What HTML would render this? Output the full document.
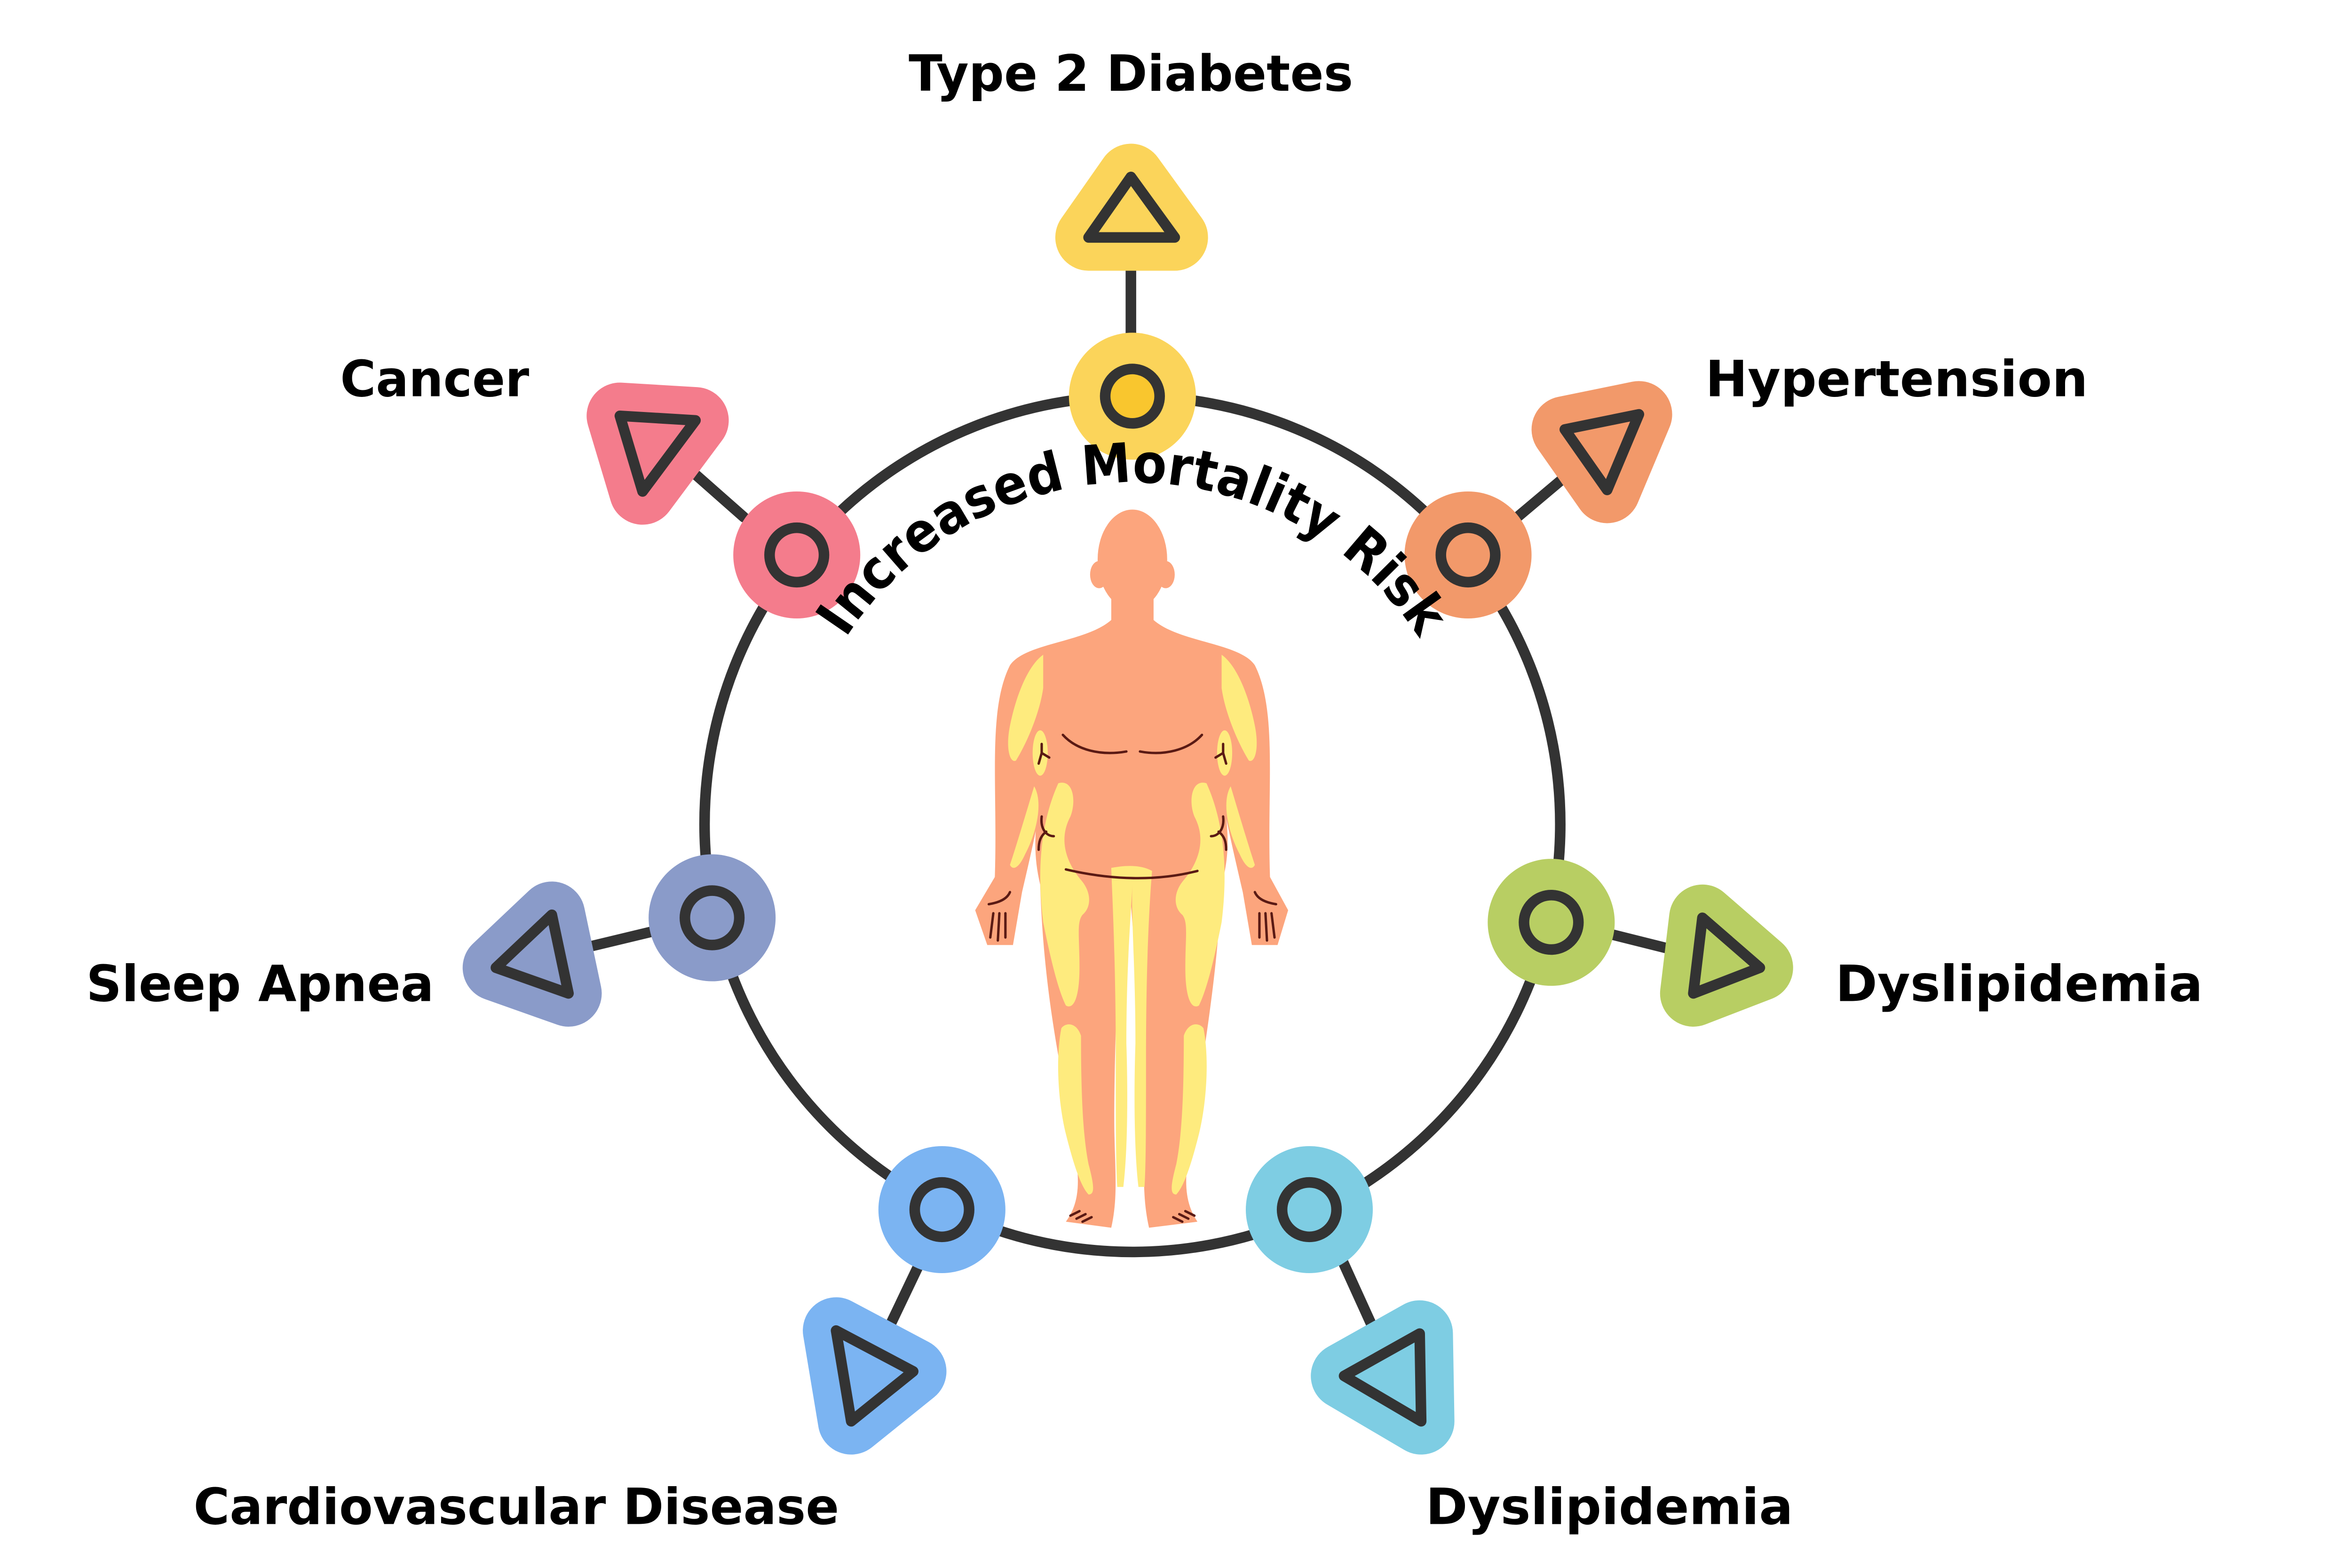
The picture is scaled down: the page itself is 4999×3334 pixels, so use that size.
<!DOCTYPE html>
<html><head><meta charset="utf-8"><style>
html,body{margin:0;padding:0;background:#fff;}
svg{display:block;}
text{font-family:"DejaVu Sans","Liberation Sans",sans-serif;font-weight:bold;fill:#000;}
</style></head><body>
<svg width="4999" height="3334" viewBox="0 0 1555 1037" xmlns="http://www.w3.org/2000/svg">
<defs>
<path id="arc" d="M 749 545 m -226 0 a 226 226 0 0 1 452 0"/>
</defs>
<circle cx="749" cy="545" r="283" fill="none" stroke="#333" stroke-width="7"/>

<g stroke="#333" stroke-width="7" stroke-linecap="round">
<line x1="748" y1="175" x2="748" y2="222"/>
<line x1="458" y1="312" x2="492" y2="342"/>
<line x1="1000" y1="345" x2="1038" y2="313"/>
<line x1="386" y1="627" x2="436" y2="615"/>
<line x1="1062" y1="617" x2="1110" y2="629"/>
<line x1="609" y1="834" x2="588" y2="878"/>
<line x1="888" y1="834" x2="908" y2="878"/>
</g>

<g stroke-linejoin="round">
<polygon points="748,117 720,157 777,157" fill="#FBD45A" stroke="#FBD45A" stroke-width="44"/>
<polygon points="748,117 720,157 777,157" fill="#FBD45A" stroke="#333" stroke-width="7"/>

<polygon points="410,275 460,278 425,325" fill="#F47C8C" stroke="#F47C8C" stroke-width="44"/>
<polygon points="410,275 460,278 425,325" fill="#F47C8C" stroke="#333" stroke-width="7"/>

<polygon points="1035,284 1084,274 1063,324" fill="#F2996A" stroke="#F2996A" stroke-width="44"/>
<polygon points="1035,284 1084,274 1063,324" fill="#F2996A" stroke="#333" stroke-width="7"/>

<polygon points="328,640 365,605 376,657" fill="#8A9BC9" stroke="#8A9BC9" stroke-width="44"/>
<polygon points="328,640 365,605 376,657" fill="#8A9BC9" stroke="#333" stroke-width="7"/>

<polygon points="1126,607 1164,640 1120,657" fill="#B8CE63" stroke="#B8CE63" stroke-width="44"/>
<polygon points="1126,607 1164,640 1120,657" fill="#B8CE63" stroke="#333" stroke-width="7"/>

<polygon points="553,880 604,907 563,940" fill="#7BB4F2" stroke="#7BB4F2" stroke-width="44"/>
<polygon points="553,880 604,907 563,940" fill="#7BB4F2" stroke="#333" stroke-width="7"/>

<polygon points="939,882 889,910 940,940" fill="#7ECDE3" stroke="#7ECDE3" stroke-width="44"/>
<polygon points="939,882 889,910 940,940" fill="#7ECDE3" stroke="#333" stroke-width="7"/>
</g>

<g stroke="#333" stroke-width="7">
<circle cx="749" cy="262" r="42" fill="#FBD45A" stroke="none"/><circle cx="749" cy="262" r="18" fill="#F9C62E"/>
<circle cx="527" cy="367" r="42" fill="#F47C8C" stroke="none"/><circle cx="527" cy="367" r="18" fill="#F47C8C"/>
<circle cx="971" cy="367" r="42" fill="#F2996A" stroke="none"/><circle cx="971" cy="367" r="18" fill="#F2996A"/>
<circle cx="471" cy="607" r="42" fill="#8A9BC9" stroke="none"/><circle cx="471" cy="607" r="18" fill="#8A9BC9"/>
<circle cx="1026" cy="610" r="42" fill="#B8CE63" stroke="none"/><circle cx="1026" cy="610" r="18" fill="#B8CE63"/>
<circle cx="623" cy="800" r="42" fill="#7BB4F2" stroke="none"/><circle cx="623" cy="800" r="18" fill="#7BB4F2"/>
<circle cx="866" cy="800" r="42" fill="#7ECDE3" stroke="none"/><circle cx="866" cy="800" r="18" fill="#7ECDE3"/>
</g>

<g>
<ellipse cx="749" cy="370" rx="23" ry="33" fill="#FCA57D"/>
<ellipse cx="727" cy="380" rx="6" ry="9" fill="#FCA57D"/>
<ellipse cx="771" cy="380" rx="6" ry="9" fill="#FCA57D"/>
<rect x="735" y="392" width="28" height="25" fill="#FCA57D"/>
<path fill="#FCA57D" d="M 735 410 L 763 410 C 780 425 820 425 830 440 C 845 470 838 520 840 580 L 852 602 L 845 625 L 828 625 L 822 590 C 815 560 808 530 805 505 C 812 540 815 560 808 585 C 805 650 795 700 790 740 C 785 770 780 790 792 808 L 760 812 C 755 790 757 770 757 740 C 755 690 750 620 747 586 L 743 586 C 740 620 737 690 737 740 C 737 770 740 790 735 812 L 705 808 C 718 790 712 770 708 740 C 700 700 690 650 688 585 C 682 560 685 540 692 505 C 690 530 683 560 676 590 L 670 625 L 653 625 L 645 602 L 658 580 C 660 520 653 470 668 440 C 678 425 718 425 735 410 Z"/>
<g fill="#FEEB7E">
<path d="M 690 433 C 680 440 672 460 668 480 C 665 495 668 505 672 503 C 680 490 688 470 690 455 Z"/>
<path d="M 808 433 C 818 440 826 460 830 480 C 833 495 830 505 826 503 C 818 490 810 470 808 455 Z"/>
<ellipse cx="688" cy="498" rx="5" ry="15"/>
<ellipse cx="810" cy="498" rx="5" ry="15"/>
<path d="M 684 520 C 678 540 672 560 668 572 C 670 576 674 574 678 565 C 686 550 690 530 684 520 Z"/>
<path d="M 814 520 C 820 540 826 560 830 572 C 828 576 824 574 820 565 C 812 550 808 530 814 520 Z"/>
<path d="M 700 518 C 690 540 685 570 690 610 C 695 635 700 655 705 665 C 710 668 714 660 714 640 C 714 620 712 610 716 605 C 722 600 722 590 715 582 C 705 570 700 555 708 540 C 712 530 710 515 700 518 Z"/>
<path d="M 798 518 C 808 540 813 570 808 610 C 803 635 798 655 793 665 C 788 668 784 660 784 640 C 784 620 786 610 782 605 C 776 600 776 590 783 582 C 793 570 798 555 790 540 C 786 530 788 515 798 518 Z"/>
<path d="M 735 574 C 745 572 755 572 762 576 C 760 600 758 640 758 700 C 758 740 758 770 757 785 L 753 785 C 750 760 750 720 751 690 C 751 640 748 605 749 585 C 748 605 745 640 745 690 C 746 720 746 760 743 785 L 739 785 C 738 770 738 740 738 700 C 738 640 736 600 735 574 Z"/>
<path d="M 702 680 C 698 700 700 730 705 750 C 710 770 715 785 720 790 C 724 790 724 785 720 770 C 716 750 715 720 715 685 C 712 676 705 676 702 680 Z"/>
<path d="M 796 680 C 800 700 798 730 793 750 C 788 770 783 785 778 790 C 774 790 774 785 778 770 C 782 750 783 720 783 685 C 786 676 793 676 796 680 Z"/>
</g>
<g fill="none" stroke="#5A1A14" stroke-width="1.6" stroke-linecap="round">
<path d="M 703 486 C 712 496 728 500 745 497"/>
<path d="M 795 486 C 786 496 770 500 754 497"/>
<path d="M 705 575 C 735 582 765 583 792 576"/>
<path d="M 689 492 L 689 498 L 694 501 M 689 498 L 687 505"/>
<path d="M 809 492 L 809 498 L 804 501 M 809 498 L 811 505"/>
<path d="M 689 540 C 688 548 692 553 697 553 M 692 550 C 688 553 687 557 687 562"/>
<path d="M 809 540 C 810 548 806 553 801 553 M 806 550 C 810 553 811 557 811 562"/>
<path d="M 657 604 L 655 620 M 661 604 L 660 622 M 665 604 L 665 620 M 654 598 C 660 597 666 595 668 590"/>
<path d="M 841 604 L 843 620 M 837 604 L 838 622 M 833 604 L 833 620 M 844 598 C 838 597 832 595 830 590"/>
<path d="M 708 804 L 714 801 M 712 806 L 718 803 M 716 808 L 722 805"/>
<path d="M 790 804 L 784 801 M 786 806 L 780 803 M 782 808 L 776 805"/>
</g>
</g>

<text font-size="36"><textPath href="#arc" startOffset="50%" text-anchor="middle" textLength="450" lengthAdjust="spacingAndGlyphs">Increased Mortality Risk</textPath></text>

<g font-size="33">
<text x="748" y="60" text-anchor="middle" textLength="294" lengthAdjust="spacingAndGlyphs">Type 2 Diabetes</text>
<text x="225" y="262" textLength="125" lengthAdjust="spacingAndGlyphs">Cancer</text>
<text x="1128" y="262" textLength="253" lengthAdjust="spacingAndGlyphs">Hypertension</text>
<text x="57" y="662" textLength="230" lengthAdjust="spacingAndGlyphs">Sleep Apnea</text>
<text x="1214" y="662" textLength="243" lengthAdjust="spacingAndGlyphs">Dyslipidemia</text>
<text x="128" y="1008" textLength="427" lengthAdjust="spacingAndGlyphs">Cardiovascular Disease</text>
<text x="943" y="1008" textLength="243" lengthAdjust="spacingAndGlyphs">Dyslipidemia</text>
</g>
</svg>
</body></html>
